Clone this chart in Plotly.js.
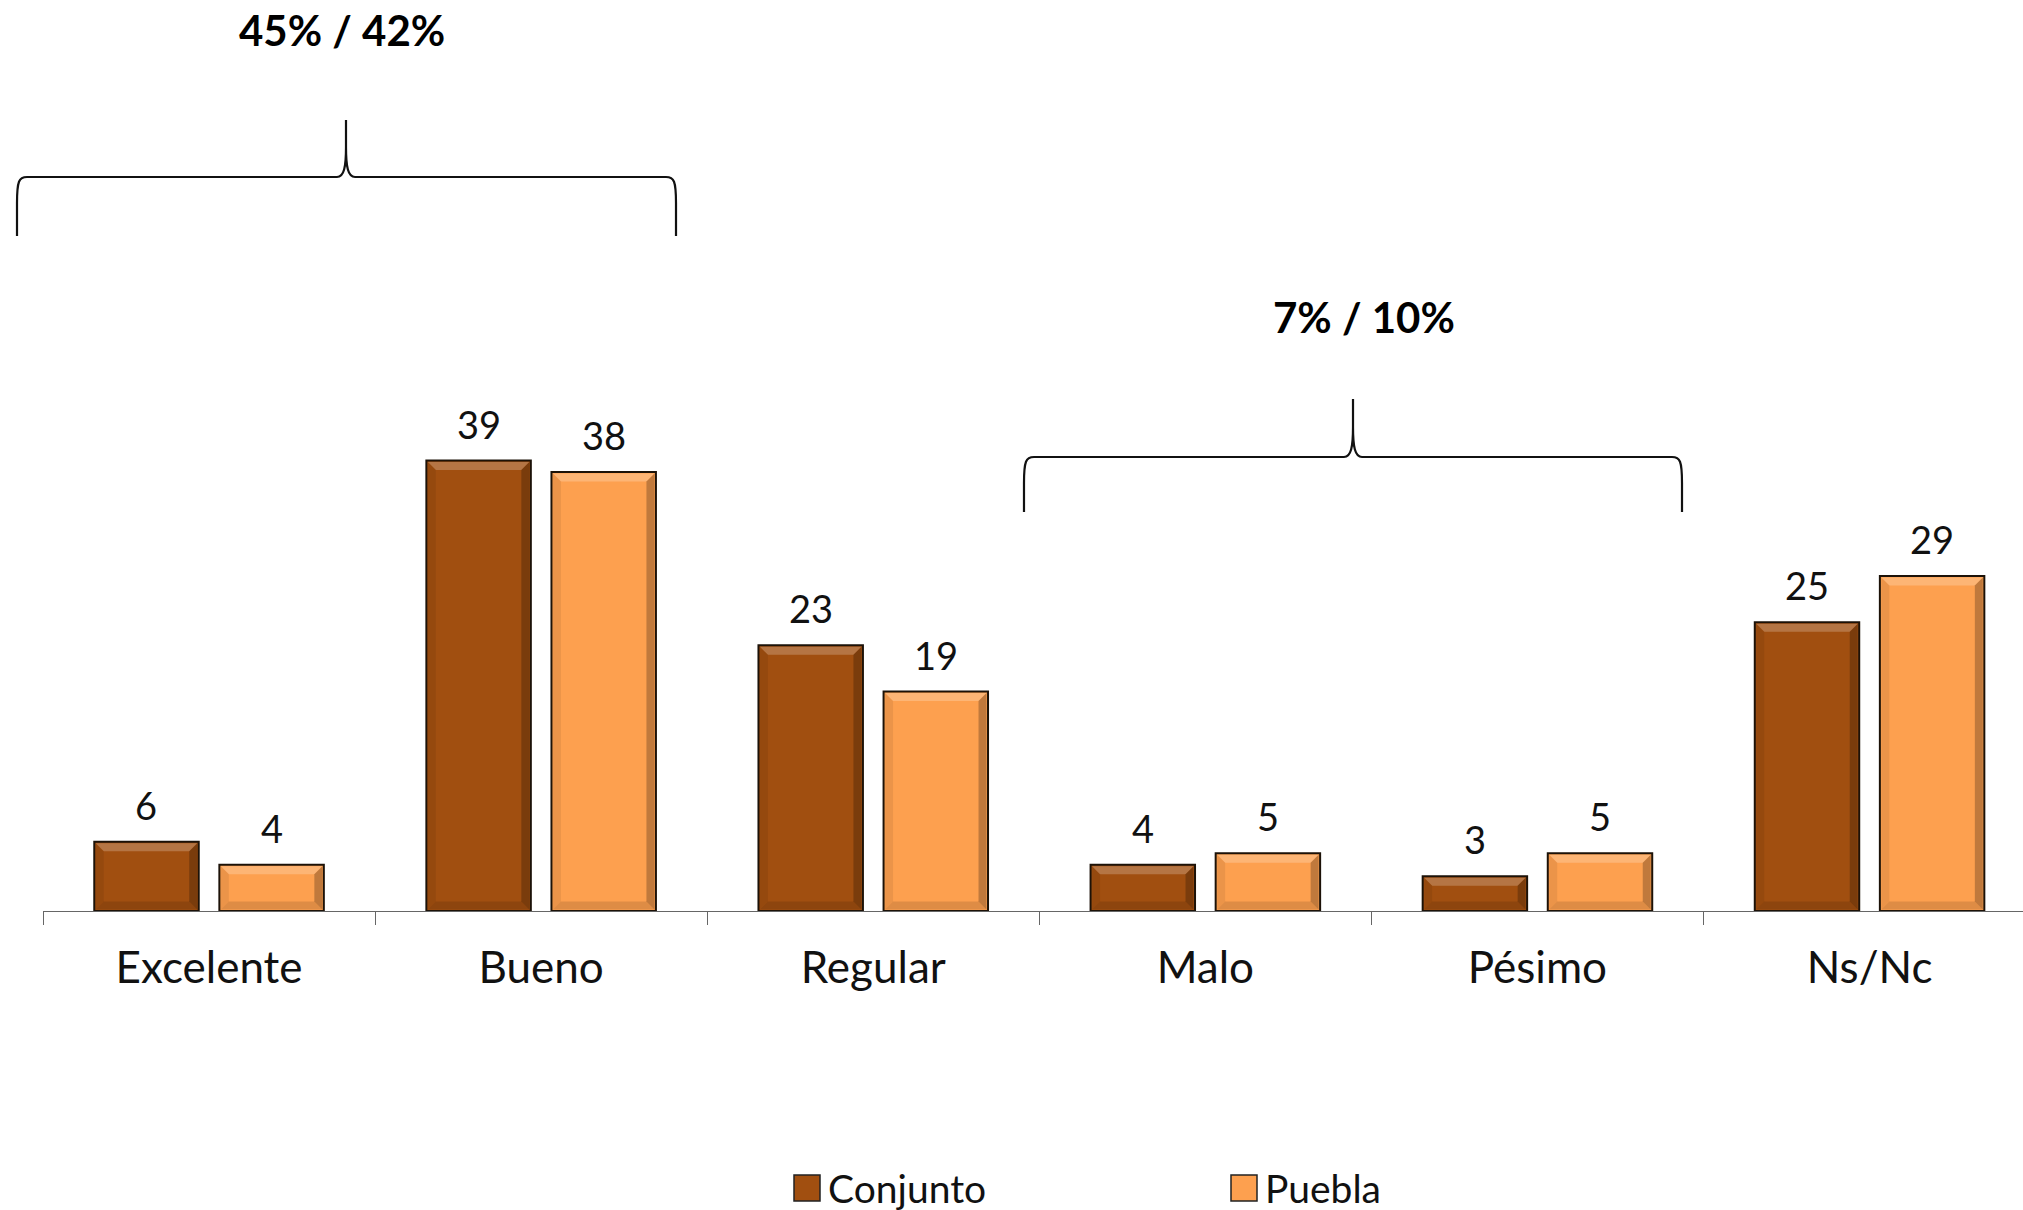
<!DOCTYPE html>
<html>
<head>
<meta charset="utf-8">
<script src="https://cdn.plot.ly/plotly-3.0.1.min.js"></script>
<style>
  html, body { margin: 0; padding: 0; background: #ffffff; }
  #chart { width: 2023px; height: 1210px; }
</style>
</head>
<body>
<div id="chart"></div>
<script>
// Opinion ratings, overall sample vs. Puebla
const categories = ["Excelente", "Bueno", "Regular", "Malo", "Pésimo", "Ns/Nc"];
const seriesNames = ["Conjunto", "Puebla"];
const conjunto = [6, 39, 23, 4, 3, 25];
const puebla = [4, 38, 19, 5, 5, 29];
const seriesColors = ["#A14F10", "#FDA04F"];

// Grouped totals shown above the braces
const groupLabels = ["45% / 42%", "7% / 10%"];

// ---- page geometry (pixels) ----
const W = 2023, H = 1210;
const M = { l: 43, r: 0, t: 0, b: 299 };
const plotW = W - M.l - M.r;
const plotH = H - M.t - M.b;
const catPx = 332.1;          // width of one category band
const unitPx = 11.55;         // pixels per percentage point
const xMax = -0.5 + plotW / catPx;
const yMax = plotH / unitPx;
const BARGAP = 0.2466, GROUPGAP = 0.165;

// pixel -> paper helpers
const px = v => (v - M.l) / plotW;
const py = v => (H - M.b - v) / plotH;

const font = "Lato, 'Open Sans', sans-serif";
const series = [conjunto, puebla];

const traces = series.map((vals, i) => ({
  type: "bar",
  name: seriesNames[i],
  x: categories,
  y: vals,
  marker: { color: seriesColors[i], line: { color: "#1c1208", width: 2 } },
  hoverinfo: "x+y+name",
  showlegend: false
}));

// value labels above each bar
const slotPx = catPx * (1 - BARGAP) / 2;
const valueAnn = [];
series.forEach((vals, i) => {
  vals.forEach((v, k) => {
    valueAnn.push({
      x: categories[k], y: v, xref: "x", yref: "y",
      xshift: (i === 0 ? -1 : 1) * slotPx / 2,
      yshift: 12,
      yanchor: "bottom", xanchor: "center",
      text: String(v), showarrow: false,
      font: { family: font, size: 38, color: "#111" }
    });
  });
});

// bevelled look: soft light/dark facets inside every bar, derived from the bar values
const shapes = [];
const halfSlot = 0.5 * (1 - BARGAP) / 2;            // slot width in category units / 2
const halfBar = halfSlot * (1 - GROUPGAP);
const inX = 1.5 / catPx, inY = 1.5 / unitPx;        // keep the outline visible
const bx = 8 / catPx, by = 8 / unitPx;              // facet depth
series.forEach((vals, i) => {
  vals.forEach((v, k) => {
    const c = k + (i === 0 ? -1 : 1) * halfSlot;
    const l = c - halfBar + inX, r = c + halfBar - inX;
    const t = v - inY, b = inY;
    const d = Math.min(by, (t - b) / 2);
    const P = (x, y) => x.toFixed(5) + "," + y.toFixed(4);
    const facet = (pts, color, op) => shapes.push({
      type: "path", xref: "x", yref: "y", layer: "above",
      path: "M" + pts.map(p => P(p[0], p[1])).join(" L") + " Z",
      fillcolor: color, opacity: op, line: { width: 0 }
    });
    facet([[l, t], [r, t], [r - bx, t - d], [l + bx, t - d]], "#ffffff", 0.22);
    facet([[r, t], [r, b], [r - bx, b + d], [r - bx, t - d]], "#000000", 0.24);
    facet([[l, t], [l + bx, t - d], [l + bx, b + d], [l, b]], "#000000", 0.07);
    facet([[l, b], [l + bx, b + d], [r - bx, b + d], [r, b]], "#000000", 0.12);
  });
});

// curly brace drawn as one path in paper coordinates
function brace(x0, x1, xt, yh, yb, ytip) {
  const rx = 10, ry = 26, tx = 9, ty = 30;
  const P = (x, y) => px(x).toFixed(5) + "," + py(y).toFixed(5);
  return "M" + P(x0, yb) +
    " L" + P(x0, yh + ry) +
    " C" + P(x0, yh + 4) + " " + P(x0 + 2, yh) + " " + P(x0 + rx, yh) +
    " L" + P(xt - tx, yh) +
    " C" + P(xt - 2, yh) + " " + P(xt, yh - 10) + " " + P(xt, yh - ty) +
    " L" + P(xt, ytip) +
    " M" + P(xt, yh - ty) +
    " C" + P(xt, yh - 10) + " " + P(xt + 2, yh) + " " + P(xt + tx, yh) +
    " L" + P(x1 - rx, yh) +
    " C" + P(x1 - 2, yh) + " " + P(x1, yh + 4) + " " + P(x1, yh + ry) +
    " L" + P(x1, yb);
}

shapes.push(
  { type: "path", xref: "paper", yref: "paper",
    path: brace(17, 676, 346, 177, 236, 120),
    line: { color: "#111", width: 2.2 } },
  { type: "path", xref: "paper", yref: "paper",
    path: brace(1024, 1682, 1353, 457, 512, 399),
    line: { color: "#111", width: 2.2 } }
);

const groupAnn = [
  { x: px(342), y: py(30), text: "<b>" + groupLabels[0] + "</b>" },
  { x: px(1364), y: py(317), text: "<b>" + groupLabels[1] + "</b>" }
].map(a => Object.assign(a, {
  xref: "paper", yref: "paper", showarrow: false,
  xanchor: "center", yanchor: "middle",
  font: { family: font, size: 42, color: "#000" }
}));

// legend: swatches plus names
const legendAnn = [];
const legendSwatch = [
  { x: 794, name: seriesNames[0], color: seriesColors[0] },
  { x: 1231, name: seriesNames[1], color: seriesColors[1] }
];
legendSwatch.forEach(s => {
  shapes.push({
    type: "rect", xref: "paper", yref: "paper",
    x0: px(s.x), x1: px(s.x + 26), y0: py(1201), y1: py(1175),
    fillcolor: s.color, line: { color: "#222", width: 1.5 }
  });
  legendAnn.push({
    xref: "paper", yref: "paper", x: px(s.x + 32), y: py(1188),
    xanchor: "left", yanchor: "middle", showarrow: false,
    text: s.name, font: { family: font, size: 39, color: "#111" }
  });
});

const layout = {
  width: W, height: H,
  margin: M,
  paper_bgcolor: "#ffffff",
  plot_bgcolor: "#ffffff",
  barmode: "group",
  bargap: BARGAP,
  bargroupgap: GROUPGAP,
  showlegend: false,
  font: { family: font, color: "#111" },
  xaxis: {
    type: "category",
    range: [-0.5, xMax],
    tickson: "boundaries",
    ticks: "outside", ticklen: 13, tickwidth: 1.3, tickcolor: "#666",
    showline: true, linecolor: "#666", linewidth: 1.3,
    showgrid: false, zeroline: false,
    tickfont: { family: font, size: 44, color: "#111" },
    ticklabelstandoff: 18,
    fixedrange: true
  },
  yaxis: {
    range: [0, yMax],
    showgrid: false, zeroline: false, showline: false,
    showticklabels: false, ticks: "",
    fixedrange: true
  },
  shapes: shapes,
  annotations: valueAnn.concat(groupAnn, legendAnn)
};

Plotly.newPlot("chart", traces, layout, { displayModeBar: false });
</script>
</body>
</html>
